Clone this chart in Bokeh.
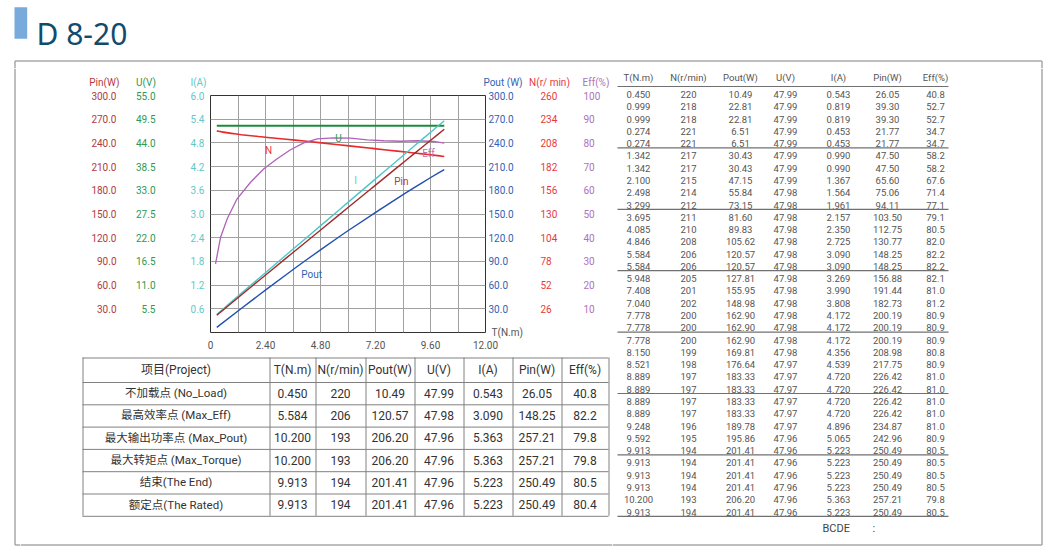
from bokeh.plotting import figure
from bokeh.models import Range1d, LinearAxis, FixedTicker, PrintfTickFormatter, ColumnDataSource
from bokeh.layouts import row, column
from bokeh.core.properties import value
from bokeh.embed import file_html
from bokeh.resources import INLINE

# ---------------------------------------------------------------- data
TITLE = "D 8-20"

T_S = ["0.450", "0.999", "0.999", "0.274", "0.274", "1.342", "1.342", "2.100", "2.498", "3.299",
       "3.695", "4.085", "4.846", "5.584", "5.584", "5.948", "7.408", "7.040", "7.778", "7.778",
       "7.778", "8.150", "8.521", "8.889", "8.889", "8.889", "8.889", "9.248", "9.592", "9.913",
       "9.913", "9.913", "9.913", "10.200", "9.913"]
N_S = ["220", "218", "218", "221", "221", "217", "217", "215", "214", "212",
       "211", "210", "208", "206", "206", "205", "201", "202", "200", "200",
       "200", "199", "198", "197", "197", "197", "197", "196", "195", "194",
       "194", "194", "194", "193", "194"]
POUT_S = ["10.49", "22.81", "22.81", "6.51", "6.51", "30.43", "30.43", "47.15", "55.84", "73.15",
          "81.60", "89.83", "105.62", "120.57", "120.57", "127.81", "155.95", "148.98", "162.90", "162.90",
          "162.90", "169.81", "176.64", "183.33", "183.33", "183.33", "183.33", "189.78", "195.86", "201.41",
          "201.41", "201.41", "201.41", "206.20", "201.41"]
U_S = ["47.99", "47.99", "47.99", "47.99", "47.99", "47.99", "47.99", "47.99", "47.98", "47.98",
       "47.98", "47.98", "47.98", "47.98", "47.98", "47.98", "47.98", "47.98", "47.98", "47.98",
       "47.98", "47.98", "47.97", "47.97", "47.97", "47.97", "47.97", "47.97", "47.96", "47.96",
       "47.96", "47.96", "47.96", "47.96", "47.96"]
I_S = ["0.543", "0.819", "0.819", "0.453", "0.453", "0.990", "0.990", "1.367", "1.564", "1.961",
       "2.157", "2.350", "2.725", "3.090", "3.090", "3.269", "3.990", "3.808", "4.172", "4.172",
       "4.172", "4.356", "4.539", "4.720", "4.720", "4.720", "4.720", "4.896", "5.065", "5.223",
       "5.223", "5.223", "5.223", "5.363", "5.223"]
PIN_S = ["26.05", "39.30", "39.30", "21.77", "21.77", "47.50", "47.50", "65.60", "75.06", "94.11",
         "103.50", "112.75", "130.77", "148.25", "148.25", "156.88", "191.44", "182.73", "200.19", "200.19",
         "200.19", "208.98", "217.75", "226.42", "226.42", "226.42", "226.42", "234.87", "242.96", "250.49",
         "250.49", "250.49", "250.49", "257.21", "250.49"]
EFF_S = ["40.8", "52.7", "52.7", "34.7", "34.7", "58.2", "58.2", "67.6", "71.4", "77.1",
         "79.1", "80.5", "82.0", "82.2", "82.2", "82.1", "81.0", "81.2", "80.9", "80.9",
         "80.9", "80.8", "80.9", "81.0", "81.0", "81.0", "81.0", "81.0", "80.9", "80.5",
         "80.5", "80.5", "80.5", "79.8", "80.5"]
RT_HEAD = ["T(N.m)", "N(r/min)", "Pout(W)", "U(V)", "I(A)", "Pin(W)", "Eff(%)"]

# efficiency curve as drawn
EFF_CURVE_T = [0.22, 0.44, 0.73, 1.16, 1.75, 2.33, 2.91, 3.49, 4.07, 4.66, 5.38, 6.11,
               6.84, 7.56, 8.29, 9.02, 9.75, 10.20]
EFF_CURVE_V = [29.0, 40.2, 48.0, 56.4, 63.4, 69.1, 73.3, 77.1, 80.0, 81.7, 82.1, 82.0,
               81.3, 80.9, 80.7, 80.9, 80.6, 79.9]

# key points table
LT_HEAD = ["项目(Project)", "T(N.m)", "N(r/min)", "Pout(W)", "U(V)", "I(A)", "Pin(W)", "Eff(%)"]
PROJECT = ["不加载点 (No_Load)", "最高效率点 (Max_Eff)", "最大输出功率点 (Max_Pout)",
           "最大转矩点 (Max_Torque)", "结束(The End)", "额定点(The Rated)"]
KP_T = ["0.450", "5.584", "10.200", "10.200", "9.913", "9.913"]
KP_N = ["220", "206", "193", "193", "194", "194"]
KP_POUT = ["10.49", "120.57", "206.20", "206.20", "201.41", "201.41"]
KP_U = ["47.99", "47.98", "47.96", "47.96", "47.96", "47.96"]
KP_I = ["0.543", "3.090", "5.363", "5.363", "5.223", "5.223"]
KP_PIN = ["26.05", "148.25", "257.21", "257.21", "250.49", "250.49"]
KP_EFF = ["40.8", "82.2", "79.8", "79.8", "80.5", "80.4"]

# axis ticks
X_TICKS = [0, 2.4, 4.8, 7.2, 9.6, 12.0]
X_GRID = [1.2, 2.4, 3.6, 4.8, 6.0, 7.2, 8.4, 9.6, 10.8]
PIN_TICKS = [30, 60, 90, 120, 150, 180, 210, 240, 270, 300]
U_TICKS = [5.5, 11.0, 16.5, 22.0, 27.5, 33.0, 38.5, 44.0, 49.5, 55.0]
I_TICKS = [0.6, 1.2, 1.8, 2.4, 3.0, 3.6, 4.2, 4.8, 5.4, 6.0]
POUT_TICKS = [30, 60, 90, 120, 150, 180, 210, 240, 270, 300]
N_TICKS = [26, 52, 78, 104, 130, 156, 182, 208, 234, 260]
EFF_TICKS = [10, 20, 30, 40, 50, 60, 70, 80, 90, 100]
AX_HEAD = ["Pin(W)", "U(V)", "I(A)", "Pout (W)", "N(r/ min)", "Eff(%)"]

CURVE_NAMES = ["N", "U", "I", "Pin", "Eff", "Pout"]

# ---------------------------------------------------------------- styles
C_PIN, C_PIN_L = "#b23a3c", "#a32a2a"
C_U, C_U_L = "#2e9a52", "#1f8a3c"
C_I, C_I_L = "#62c8c8", "#4cc6c6"
C_POUT, C_POUT_L = "#3262b4", "#2150b0"
C_N, C_N_L = "#e8393c", "#e82a2a"
C_EFF, C_EFF_L = "#b072b8", "#b062b8"
BORDER = "#a8a8a8"
FONT = "Roboto"
FONT_CJK = "Roboto, Noto Sans CJK SC"

W_ALL, H_ALL = 1046, 548


def num(lst):
    return [float(s) for s in lst]


def blank(x0, x1, y0, y1):
    f = figure(width=x1 - x0, height=y1 - y0, x_range=Range1d(x0, x1), y_range=Range1d(y1, y0),
               output_backend="svg", toolbar_location=None, tools="", min_border=0,
               x_axis_location=None, y_axis_location=None)
    f.outline_line_color = None
    f.xgrid.visible = False
    f.ygrid.visible = False
    f.background_fill_color = "white"
    f.border_fill_color = "white"
    f.frame_align = False
    return f

BX0, BX1, BY0, BY1 = 14.5, 1041.5, 60.5, 544.5

# ---------------------------------------------------------------- top strip (title + border top)
ftop = blank(0, W_ALL, 0, 68)
ftop.quad(left=[14], right=[26.7], top=[6.7], bottom=[38.3], fill_color="#78aadb", line_color=None)
ftop.text(x=[36.0], y=[33.3], text=[TITLE], text_font=value("Noto Sans"), text_font_size="30px",
          text_color="#0f4c6e", text_baseline="alphabetic", text_align="left")
ftop.segment(x0=[BX0, BX0, BX1], y0=[BY0, BY0, BY0], x1=[BX1, BX0, BX1], y1=[BY0, 68, 68],
             line_color=BORDER, line_width=1.5)

# ---------------------------------------------------------------- left strip
fstrip = blank(0, 20, 68, H_ALL)
fstrip.segment(x0=[BX0, BX0], y0=[68, BY1], x1=[BX0, 20], y1=[BY1, BY1],
               line_color=BORDER, line_width=1.5)

# ---------------------------------------------------------------- axis headers
fhdr = blank(20, 612, 68, 88)
fhdr.text(x=[103.8, 145.5, 198, 502.5, 549, 595.5], y=[81.7] * 6, text=AX_HEAD,
          text_color=[C_PIN, C_U, C_I, C_POUT, C_N, C_EFF], text_font=value(FONT),
          text_font_size="10px", text_align="center", text_baseline="middle")

# ---------------------------------------------------------------- chart
pc = figure(width=592, height=268, x_range=Range1d(0, 12), y_range=Range1d(0, 300),
            output_backend="svg", toolbar_location=None, tools="",
            x_axis_location=None, y_axis_location=None,
            min_border_left=190, min_border_right=127, min_border_top=7, min_border_bottom=24)
pc.frame_align = False
pc.extra_y_ranges = {"u": Range1d(0, 55), "i": Range1d(0, 6), "n": Range1d(0, 260), "eff": Range1d(0, 100)}
pc.outline_line_color = "#333333"
pc.outline_line_width = 1
pc.background_fill_color = "white"
pc.border_fill_color = "white"
pc.xgrid.ticker = FixedTicker(ticks=X_GRID)
pc.ygrid.ticker = FixedTicker(ticks=PIN_TICKS)
pc.xgrid.grid_line_color = "#a0a0a0"
pc.ygrid.grid_line_color = "#a0a0a0"
pc.xgrid.grid_line_width = 1
pc.ygrid.grid_line_width = 1


def mk_axis(rng, ticks, fmt, color, standoff, overrides=None):
    ax = LinearAxis(y_range_name=rng, ticker=FixedTicker(ticks=ticks),
                    formatter=PrintfTickFormatter(format=fmt),
                    major_label_standoff=standoff, axis_line_color=None,
                    major_tick_line_color=None, minor_tick_line_color=None,
                    major_tick_out=0, major_tick_in=0, minor_tick_out=0, minor_tick_in=0,
                    major_label_text_color=color, major_label_text_font=FONT,
                    major_label_text_font_size="10px")
    if overrides:
        ax.major_label_overrides = overrides
    return ax

# left axes (inner to outer)
pc.add_layout(mk_axis("i", I_TICKS, "%.1f", C_I, 6), "left")
pc.add_layout(mk_axis("u", U_TICKS, "%.1f", C_U, 32), "left")
pc.add_layout(mk_axis("default", PIN_TICKS, "%.1f", C_PIN, 17), "left")
# right axes (inner to outer)
pc.add_layout(mk_axis("default", POUT_TICKS, "%.1f", C_POUT, 3), "right")
pc.add_layout(mk_axis("default", [0], "%.0f", "#555555", -25, {0: "T(N.m)"}), "right")
pc.add_layout(mk_axis("n", N_TICKS, "%d", C_N, 15), "right")
pc.add_layout(mk_axis("eff", EFF_TICKS, "%d", C_EFF, 23), "right")

xax = LinearAxis(ticker=FixedTicker(ticks=X_TICKS), formatter=PrintfTickFormatter(format="%.2f"),
                 major_label_overrides={0: "0"}, major_label_standoff=8, axis_line_color=None,
                 major_tick_line_color=None, minor_tick_line_color=None,
                 major_tick_out=0, major_tick_in=0, minor_tick_out=0, minor_tick_in=0,
                 major_label_text_color="#555555", major_label_text_font=FONT,
                 major_label_text_font_size="10px")
pc.add_layout(xax, "below")

T = num(T_S)
pc.line(T, num(U_S), y_range_name="u", line_color=C_U_L, line_width=2)
pc.line(T, num(N_S), y_range_name="n", line_color=C_N_L, line_width=1.6)
pc.line(EFF_CURVE_T, EFF_CURVE_V, y_range_name="eff", line_color=C_EFF_L, line_width=1.3)
pc.line(T, num(I_S), y_range_name="i", line_color=C_I_L, line_width=1.4)
pc.line(T, num(PIN_S), line_color=C_PIN_L, line_width=1.4)
pc.line(T, num(POUT_S), line_color=C_POUT_L, line_width=1.4)

lab_src = ColumnDataSource(dict(
    x=[2.53, 5.59, 6.33, 8.33, 9.51, 4.41],
    y=[230.4, 245.6, 192.4, 191.1, 226.6, 73.4],
    text=CURVE_NAMES,
    color=[C_N, C_U, C_I, C_PIN, C_EFF, C_POUT]))
pc.text(x="x", y="y", text="text", text_color="color", source=lab_src, text_font=value(FONT),
        text_font_size="10px", text_align="center", text_baseline="middle")

# ---------------------------------------------------------------- key point table
flt = blank(20, 612, 356, H_ALL)
COL_E = [82, 269, 315, 365, 414, 463, 512, 561, 608]
ROW_E = [357, 381.5, 403.8, 426.1, 448.4, 470.7, 493.0, 515.3]
hx0, hy0, hx1, hy1 = [], [], [], []
for yv in ROW_E:
    hx0.append(COL_E[0]); hx1.append(COL_E[-1]); hy0.append(yv + 0.5); hy1.append(yv + 0.5)
for xv in COL_E:
    hx0.append(xv + 0.5); hx1.append(xv + 0.5); hy0.append(ROW_E[0]); hy1.append(ROW_E[-1])
flt.segment(x0=hx0, y0=hy0, x1=hx1, y1=hy1, line_color="#808080", line_width=1)
flt.segment(x0=[20], y0=[BY1], x1=[612], y1=[BY1], line_color=BORDER, line_width=1.5)

hcx = [(COL_E[i] + COL_E[i + 1]) / 2 for i in range(8)]
hcy = (ROW_E[0] + ROW_E[1]) / 2
flt.text(x=hcx, y=[hcy] * 8, text=LT_HEAD, text_font=value(FONT_CJK), text_font_size="12px",
         text_color="#333333", text_align="center", text_baseline="middle")
rcy = [(ROW_E[i] + ROW_E[i + 1]) / 2 for i in range(1, 7)]
flt.text(x=[hcx[0]] * 6, y=rcy, text=PROJECT, text_font=value(FONT_CJK), text_font_size="11.5px",
         text_color="#333333", text_align="center", text_baseline="middle")
cols = [KP_T, KP_N, KP_POUT, KP_U, KP_I, KP_PIN, KP_EFF]
tx, ty, tt = [], [], []
for ci, col in enumerate(cols):
    for ri, s in enumerate(col):
        tx.append(hcx[ci + 1])
        ty.append(rcy[ri])
        tt.append(s)
flt.text(x=tx, y=ty, text=tt, text_font=value(FONT), text_font_size="12px",
         text_color="#333333", text_align="center", text_baseline="middle")

# ---------------------------------------------------------------- full data table
frt = blank(612, W_ALL, 68, H_ALL)
RT_X = [638, 688, 740, 785, 838, 887, 935]
RT_ROW0, RT_DY = 94.0, 12.28
frt.text(x=RT_X, y=[77] * 7, text=RT_HEAD, text_font=value(FONT), text_font_size="9.5px",
         text_color="#555555", text_align="center", text_baseline="middle")
rx, ry, rt = [], [], []
for ci, col in enumerate([T_S, N_S, POUT_S, U_S, I_S, PIN_S, EFF_S]):
    for ri, s in enumerate(col):
        rx.append(RT_X[ci])
        ry.append(RT_ROW0 + ri * RT_DY)
        rt.append(s)
frt.text(x=rx, y=ry, text=rt, text_font=value(FONT), text_font_size="9.5px",
         text_color="#555555", text_align="center", text_baseline="middle")
ly = [86 + k * 61.4 for k in range(8)]
frt.segment(x0=[617] * 8, y0=ly, x1=[948] * 8, y1=ly, line_color="#707070", line_width=1.2)
frt.text(x=[822, 872], y=[528, 528], text=["BCDE", ":"], text_font=value(FONT), text_font_size="11px",
         text_color="#444444", text_align="left", text_baseline="middle")
frt.segment(x0=[BX1, 612], y0=[68, BY1], x1=[BX1, BX1], y1=[BY1, BY1],
            line_color=BORDER, line_width=1.5)

# ---------------------------------------------------------------- layout
layout = column(ftop, row(fstrip, column(fhdr, pc, flt), frt))
open("out.html", "w").write(file_html(layout, INLINE))
